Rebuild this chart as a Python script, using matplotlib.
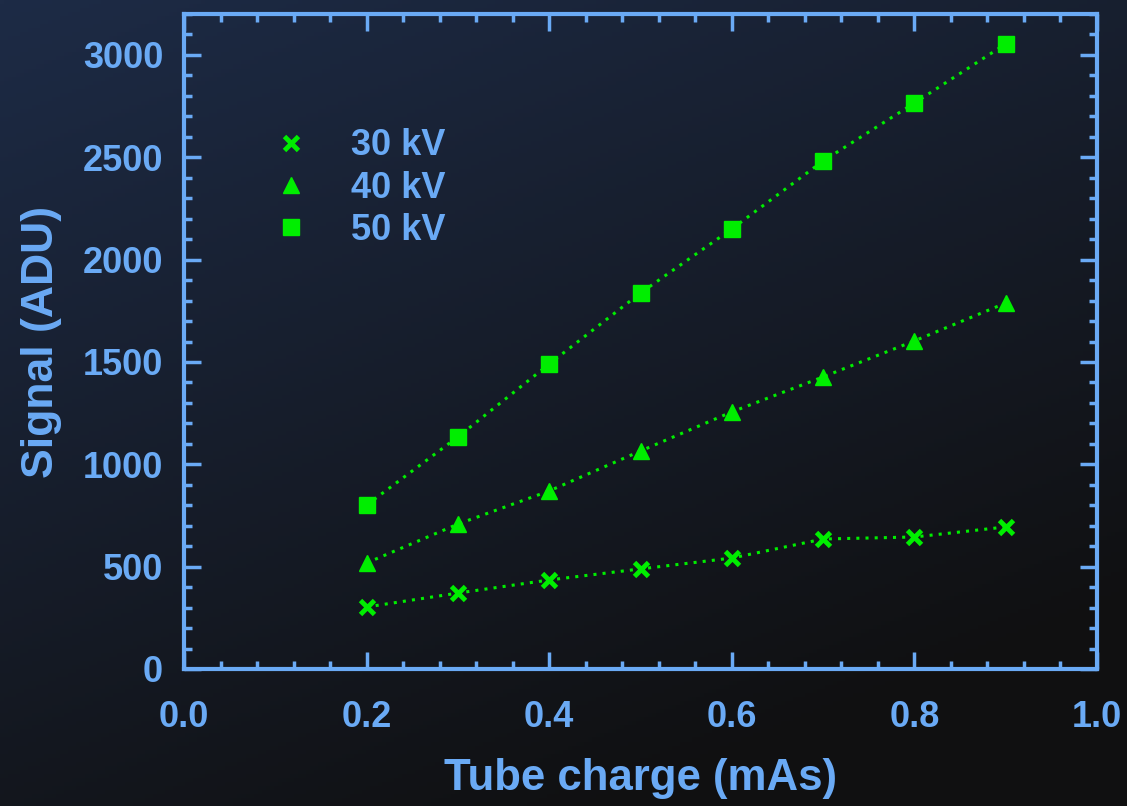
import numpy as np
import matplotlib
matplotlib.use("Agg")
import matplotlib.pyplot as plt
from matplotlib.lines import Line2D

charge = [0.2, 0.3, 0.4, 0.5, 0.6, 0.7, 0.8, 0.9]
sig_30kv = [303, 371, 435, 489, 542, 635, 645, 694]
sig_40kv = [518, 708, 870, 1065, 1256, 1427, 1603, 1788]
sig_50kv = [801, 1134, 1490, 1837, 2150, 2482, 2765, 3054]
labels = ["30 kV", "40 kV", "50 kV"]

TXT = "#6aaaf5"
GREEN = "#00ee00"
plt.rcParams['font.family'] = ['Liberation Sans', 'DejaVu Sans']
plt.rcParams['font.weight'] = 'bold'

fig = plt.figure(figsize=(11.27, 8.06), dpi=100)

# background gradient
bg = fig.add_axes([0, 0, 1, 1], zorder=-10)
H, W = 200, 280
yy, xx = np.mgrid[0:H, 0:W]
t = np.clip((0.55 * xx / W + yy / H) / 1.3, 0, 1)
c0 = np.array([29, 43, 70]) / 255.0
c1 = np.array([16, 16, 17]) / 255.0
img = c0[None, None, :] * (1 - t[..., None]) + c1[None, None, :] * t[..., None]
bg.imshow(img, aspect='auto', extent=[0, 1, 0, 1], origin='upper')
bg.axis('off')

ax = fig.add_axes([184 / 1127, 1 - 669 / 806, (1097 - 184) / 1127, (669 - 14) / 806])
ax.set_facecolor('none')

styles = [dict(marker='x', ms=10, mew=3.5), dict(marker='^', ms=11), dict(marker='s', ms=11)]
for ys, st in zip([sig_30kv, sig_40kv, sig_50kv], styles):
    ax.plot(charge, ys, linestyle=(0, (1, 2)), lw=2.2, color=GREEN, **st)

ax.set_xlim(0, 1.0)
ax.set_ylim(0, 3200)
ax.set_xticks(np.arange(0, 1.01, 0.2))
ax.set_xticks(np.arange(0, 1.001, 0.04), minor=True)
ax.set_yticks(np.arange(0, 3001, 500))
ax.set_yticks(np.arange(0, 3201, 100), minor=True)
ax.set_xticklabels([f"{v:.1f}" for v in np.arange(0, 1.01, 0.2)])
ax.tick_params(which='both', direction='in', top=True, right=True, colors=TXT,
               labelsize=26, width=2.5)
ax.tick_params(which='major', length=12)
ax.tick_params(which='minor', length=6)
ax.tick_params(axis='x', which='major', pad=22)
ax.tick_params(axis='y', which='major', pad=15)
for s in ax.spines.values():
    s.set_color(TXT)
    s.set_linewidth(3)

ax.set_xlabel("Tube charge (mAs)", color=TXT, fontsize=31.5, fontweight='bold', labelpad=17)
ax.set_ylabel("Signal (ADU)", color=TXT, fontsize=32, fontweight='bold', labelpad=15)

handles = [Line2D([], [], linestyle='none', color=GREEN, **st) for st in styles]
leg = ax.legend(handles, labels, loc='upper left', bbox_to_anchor=(0.062, 0.875),
                frameon=False, fontsize=26, handletextpad=1.15, labelspacing=0.2,
                handlelength=1.0)
for tx in leg.get_texts():
    tx.set_color(TXT)

fig.savefig("out.png", dpi=100)
